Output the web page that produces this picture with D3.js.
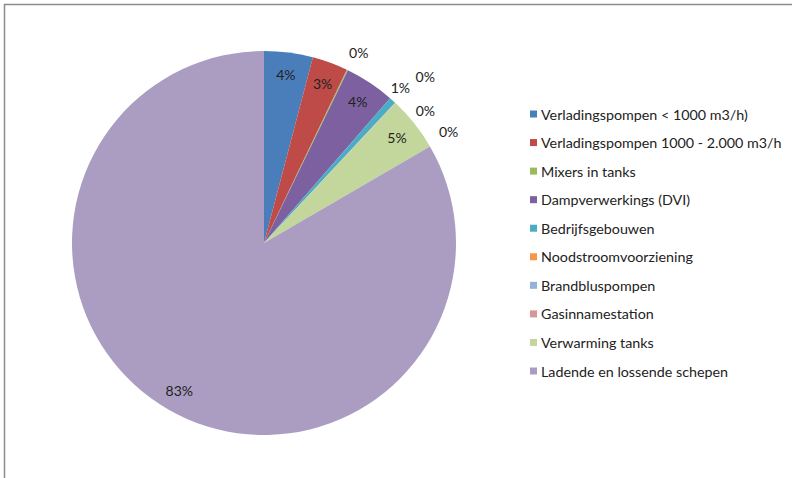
<!DOCTYPE html>
<html><head><meta charset="utf-8">
<script src="https://cdn.jsdelivr.net/npm/d3@7"></script>
<style>
html,body{margin:0;padding:0;background:#fff;}
text{font-family:Lato,"Open Sans",sans-serif;fill:#222;}
</style></head>
<body>
<svg id="chart" width="792" height="478"></svg>
<script>
const categories = [
  "Verladingspompen < 1000 m3/h)",
  "Verladingspompen 1000 - 2.000 m3/h",
  "Mixers in tanks",
  "Dampverwerkings (DVI)",
  "Bedrijfsgebouwen",
  "Noodstroomvoorziening",
  "Brandbluspompen",
  "Gasinnamestation",
  "Verwarming tanks",
  "Ladende en lossende schepen"
];
const values = [4.1, 3.0, 0.1, 4.2, 0.55, 0.02, 0.02, 0.02, 4.6, 83.39];
const colors = ["#4A7EBB","#BE4B48","#9BBB59","#7D60A0","#4BACC6","#F79646","#95B3D7","#D99694","#C3D69B","#AA9DC1"];
// label placement: small slices get outside labels, nudged to avoid overlap
const outsideShift = {2:[3,0],4:[-5,1],5:[17,-12],6:[17,22],7:[40,42]};

const svg = d3.select("#chart");
// frame
svg.append("path").attr("d","M4.5,478 V4.5 H792").attr("fill","none").attr("stroke","#8c8c8c").attr("stroke-width",1.5);

const cx = 264, cy = 243, R = 192;
const total = d3.sum(values);
const pie = d3.pie().sort(null).value(d=>d);
const arcs = pie(values);
const arc = d3.arc().innerRadius(0).outerRadius(R);
const inArc = d3.arc().innerRadius(R*0.885).outerRadius(R*0.885);
const outArc = d3.arc().innerRadius(R*1.1).outerRadius(R*1.1);
const g = svg.append("g").attr("transform",`translate(${cx},${cy})`);
g.selectAll("path.slice").data(arcs).join("path").attr("class","slice")
  .attr("d",arc).attr("fill",(d,i)=>colors[i]);

const fmt = v => d3.format(".0%")(v/total);
g.selectAll("text.lbl").data(arcs).join("text").attr("class","lbl")
  .attr("text-anchor","middle").attr("dominant-baseline","central")
  .style("font-size","14px")
  .attr("transform",(d,i)=>{
    const frac = d.data/total;
    if (frac < 0.02) {
      const [x,y] = outArc.centroid(d);
      const s = outsideShift[i] || [0,0];
      return `translate(${x+s[0]},${y+s[1]})`;
    }
    const [x,y] = inArc.centroid(d);
    return `translate(${x},${y})`;
  })
  .text(d=>fmt(d.data));

// legend
const ly = d3.scalePoint().domain(categories).range([114,371]);
const lg = svg.append("g");
const items = lg.selectAll("g").data(categories).join("g")
  .attr("transform",d=>`translate(530,${ly(d)})`);
items.append("rect").attr("x",0).attr("y",-3.5).attr("width",7).attr("height",7)
  .attr("fill",(d,i)=>colors[i]);
items.append("text").attr("x",11).attr("dominant-baseline","central")
  .style("font-size","14.3px").text(d=>d);
</script>
</body></html>
